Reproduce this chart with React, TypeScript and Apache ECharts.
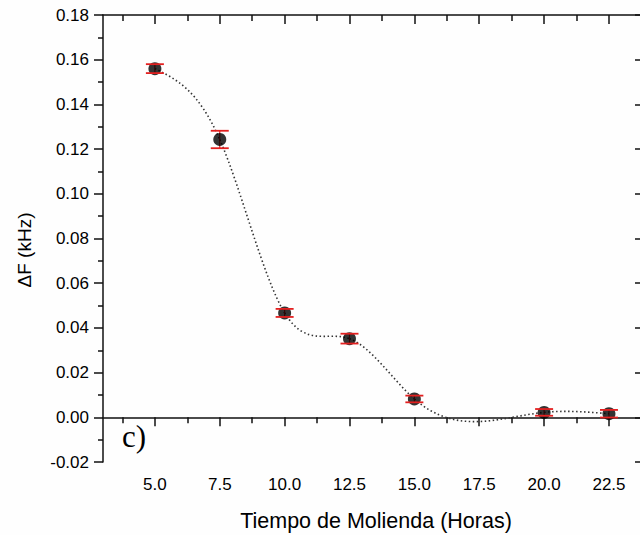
import React, { useEffect, useRef } from "react";
import * as echarts from "echarts";

const hours = [5, 7.5, 10, 12.5, 15, 20, 22.5];
const deltaF = [0.156, 0.1243, 0.0467, 0.0352, 0.0082, 0.0022, 0.0016];
const errors = [0.002, 0.0039, 0.0018, 0.0022, 0.0015, 0.0015, 0.0017];
const xMajorTicks = [5, 7.5, 10, 12.5, 15, 17.5, 20, 22.5];
const xMinorTicks = [3.75, 6.25, 8.75, 11.25, 13.75, 16.25, 18.75, 21.25];

const FONT = "Arial, Liberation Sans, sans-serif";

// natural cubic spline slopes at the data points (used to draw the fit curve as Bezier segments)
function splineSlopes(xs: number[], ys: number[]): number[] {
  const n = xs.length;
  const h: number[] = [];
  for (let i = 0; i < n - 1; i++) h.push(xs[i + 1] - xs[i]);
  const a = new Array(n).fill(0);
  const b = new Array(n).fill(0);
  const c = new Array(n).fill(0);
  const d = new Array(n).fill(0);
  b[0] = 1;
  b[n - 1] = 1;
  for (let i = 1; i < n - 1; i++) {
    a[i] = h[i - 1];
    b[i] = 2 * (h[i - 1] + h[i]);
    c[i] = h[i];
    d[i] = 6 * ((ys[i + 1] - ys[i]) / h[i] - (ys[i] - ys[i - 1]) / h[i - 1]);
  }
  const cp = new Array(n).fill(0);
  const dp = new Array(n).fill(0);
  cp[0] = c[0] / b[0];
  dp[0] = d[0] / b[0];
  for (let i = 1; i < n; i++) {
    const m = b[i] - a[i] * cp[i - 1];
    cp[i] = c[i] / m;
    dp[i] = (d[i] - a[i] * dp[i - 1]) / m;
  }
  const M = new Array(n).fill(0);
  M[n - 1] = dp[n - 1];
  for (let i = n - 2; i >= 0; i--) M[i] = dp[i] - cp[i] * M[i + 1];
  const slopes: number[] = [];
  for (let i = 0; i < n; i++) {
    if (i < n - 1) {
      slopes.push((ys[i + 1] - ys[i]) / h[i] - (h[i] * (2 * M[i] + M[i + 1])) / 6);
    } else {
      const j = n - 2;
      slopes.push((ys[j + 1] - ys[j]) / h[j] + (h[j] * (M[j] + 2 * M[j + 1])) / 6);
    }
  }
  return slopes;
}

export default function App() {
  const ref = useRef<HTMLDivElement>(null);
  useEffect(() => {
    if (!ref.current) return;
    const chart = echarts.init(ref.current, null, { renderer: "svg" });
    const points = hours.map((h, i) => [h, deltaF[i]]);
    const errData = hours.map((h, i) => [h, deltaF[i] - errors[i], deltaF[i] + errors[i]]);
    const slopes = splineSlopes(hours, deltaF);
    const segData = hours.slice(0, -1).map((h, i) => [h, deltaF[i], hours[i + 1], deltaF[i + 1], slopes[i], slopes[i + 1]]);
    const axisLine = { show: true, lineStyle: { color: "#111", width: 1.5 } };
    const tickStyle = { color: "#111", width: 1.5 };
    const baseX = { type: "value", min: 3, max: 23.85, splitLine: { show: false }, gridIndex: 0 };
    const option: any = {
      animation: false,
      backgroundColor: "#fefefe",
      grid: { left: 103, top: 15, width: 541, height: 447 },
      xAxis: [
        {
          ...baseX,
          position: "bottom",
          axisLine,
          axisTick: { show: true, inside: false, length: 9, lineStyle: tickStyle, customValues: xMajorTicks },
          axisLabel: {
            show: true,
            customValues: xMajorTicks,
            formatter: (v: number) => v.toFixed(1),
            fontSize: 17,
            fontFamily: FONT,
            color: "#000",
            margin: 14,
          },
        },
        {
          ...baseX,
          position: "bottom",
          axisLine: { show: false },
          axisTick: { show: true, inside: false, length: 6, lineStyle: tickStyle, customValues: xMinorTicks },
          axisLabel: { show: false },
        },
        {
          ...baseX,
          position: "top",
          axisLine,
          axisTick: { show: true, inside: true, length: 9, lineStyle: tickStyle, customValues: xMajorTicks },
          axisLabel: { show: false },
        },
        {
          ...baseX,
          position: "top",
          axisLine: { show: false },
          axisTick: { show: true, inside: true, length: 6, lineStyle: tickStyle, customValues: xMinorTicks },
          axisLabel: { show: false },
        },
      ],
      yAxis: [
        {
          type: "value",
          position: "left",
          min: -0.02,
          max: 0.18,
          interval: 0.02,
          splitLine: { show: false },
          axisLine,
          axisTick: { show: true, inside: false, length: 9, lineStyle: tickStyle },
          minorTick: { show: true, splitNumber: 2, length: 5, lineStyle: tickStyle },
          axisLabel: {
            formatter: (v: number) => v.toFixed(2),
            fontSize: 17,
            fontFamily: FONT,
            color: "#000",
            margin: 14,
          },
        },
        {
          type: "value",
          position: "right",
          min: -0.02,
          max: 0.18,
          interval: 0.02,
          splitLine: { show: false },
          axisLine,
          axisTick: { show: true, inside: true, length: 9, lineStyle: tickStyle },
          axisLabel: { show: false },
        },
      ],
      graphic: [
        {
          type: "text",
          x: 24,
          y: 250,
          rotation: Math.PI / 2,
          style: {
            text: "ΔF (kHz)",
            fontSize: 19,
            fontFamily: FONT,
            fill: "#000",
            align: "center",
            verticalAlign: "middle",
          },
        },
        {
          type: "text",
          x: 376,
          y: 521,
          style: {
            text: "Tiempo de Molienda (Horas)",
            fontSize: 21.5,
            fontFamily: FONT,
            fill: "#000",
            align: "center",
            verticalAlign: "middle",
          },
        },
        {
          type: "text",
          x: 122,
          y: 436,
          style: {
            text: "c)",
            fontSize: 31,
            fontFamily: "Liberation Serif, Times New Roman, serif",
            fill: "#000",
            align: "left",
            verticalAlign: "middle",
          },
        },
      ],
      series: [
        {
          type: "custom",
          data: segData,
          z: 1,
          renderItem: (params: any, api: any) => {
            const x0 = api.value(0), y0 = api.value(1), x1 = api.value(2), y1 = api.value(3);
            const m0 = api.value(4), m1 = api.value(5);
            const hh = (x1 - x0) / 3;
            const p0 = api.coord([x0, y0]);
            const c1 = api.coord([x0 + hh, y0 + m0 * hh]);
            const c2 = api.coord([x1 - hh, y1 - m1 * hh]);
            const p1 = api.coord([x1, y1]);
            return {
              type: "bezierCurve",
              shape: { x1: p0[0], y1: p0[1], cpx1: c1[0], cpy1: c1[1], cpx2: c2[0], cpy2: c2[1], x2: p1[0], y2: p1[1] },
              style: { stroke: "#333", lineWidth: 1.6, lineDash: [1.5, 2.5], fill: null },
            };
          },
        },
        {
          type: "custom",
          data: errData,
          z: 2,
          renderItem: (params: any, api: any) => {
            const lo = api.coord([api.value(0), api.value(1)]);
            const hi = api.coord([api.value(0), api.value(2)]);
            return {
              type: "line",
              shape: { x1: lo[0], y1: lo[1], x2: hi[0], y2: hi[1] },
              style: { stroke: "#e32020", lineWidth: 1.2 },
            };
          },
        },
        {
          type: "scatter",
          data: points,
          symbol: "circle",
          symbolSize: 13,
          itemStyle: { color: "#000" },
          z: 3,
        },
        {
          type: "custom",
          data: errData,
          z: 4,
          renderItem: (params: any, api: any) => {
            const lo = api.coord([api.value(0), api.value(1)]);
            const hi = api.coord([api.value(0), api.value(2)]);
            const hw = 9;
            return {
              type: "group",
              children: [
                {
                  type: "line",
                  shape: { x1: lo[0] - hw, y1: lo[1], x2: lo[0] + hw, y2: lo[1] },
                  style: { stroke: "#e32020", lineWidth: 1.8 },
                },
                {
                  type: "line",
                  shape: { x1: hi[0] - hw, y1: hi[1], x2: hi[0] + hw, y2: hi[1] },
                  style: { stroke: "#e32020", lineWidth: 1.8 },
                },
              ],
            };
          },
        },
      ],
    };
    chart.setOption(option);
    return () => chart.dispose();
  }, []);
  return (
    <div
      ref={ref}
      style={{ position: "fixed", left: 0, top: 0, width: 660, height: 535 }}
    />
  );
}
